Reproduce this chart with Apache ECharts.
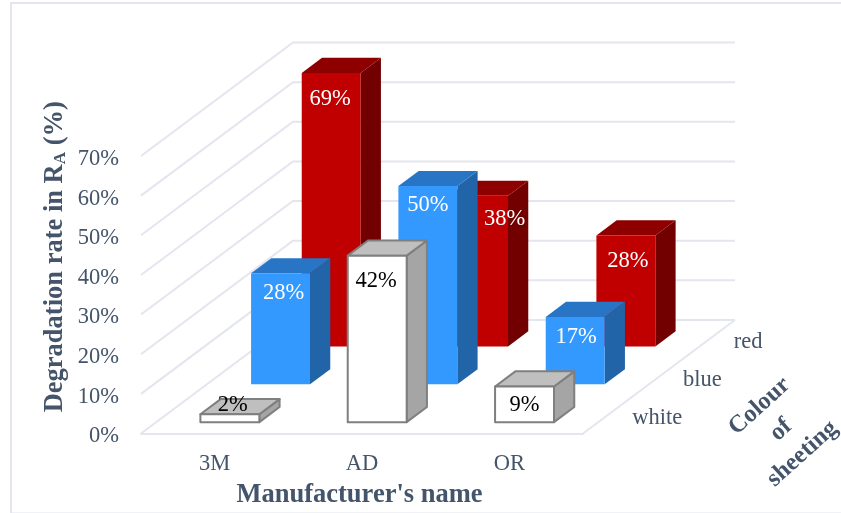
<!DOCTYPE html>
<html>
<head>
<meta charset="utf-8">
<style>html,body{margin:0;padding:0;background:#fff}#c{width:841px;height:513px}</style>
<script src="https://cdn.jsdelivr.net/npm/echarts@6/dist/echarts.min.js"></script>
</head>
<body>
<div id="c"></div>
<script>
var manufacturers = ['3M', 'AD', 'OR'];
var colours = ['white', 'blue', 'red'];
var yTicks = [0, 10, 20, 30, 40, 50, 60, 70];
var redValues = [69, 38, 28];
var blueValues = [28, 50, 17];
var whiteValues = [2, 42, 9];

var FONT = '"Liberation Serif","Times New Roman",serif';
var TEXT = '#44546A';
var GRID = '#E3E6EE';
var DEPTH_X = 152, DEPTH_Y = 113.5;
var ROW_X = DEPTH_X / colours.length, ROW_Y = DEPTH_Y / colours.length;
var BAR_FRAC = 0.4, DEPTH_FRAC = 0.4;

var styles = {
  white: {front: '#FFFFFF', top: '#BFBFBF', side: '#A5A5A5', stroke: '#7F7F7F', lw: 2, label: '#000000'},
  blue: {front: '#3399FF', top: '#2875C6', side: '#2264A8', stroke: null, lw: 0, label: '#FFFFFF'},
  red: {front: '#C00000', top: '#8E0000', side: '#720000', stroke: null, lw: 0, label: '#FFFFFF'}
};
// label placement relative to the bar's top-front centre
var labelShift = {
  white: [[3, -9], [-1, 25], [0, 19]],
  blue: [[3, 20], [0, 19], [1, 20]],
  red: [[-1, 26], [26, 23], [2, 26]]
};

function barSeries(name, values) {
  var row = colours.indexOf(name), st = styles[name];
  return {
    type: 'custom', name: name, coordinateSystem: 'cartesian2d', clip: false, silent: true,
    data: values.map(function (v, i) { return [i, v]; }),
    encode: {x: 0, y: 1},
    renderItem: function (params, api) {
      var cat = api.value(0), v = api.value(1);
      var band = api.size([1, 0])[0];
      var w = band * BAR_FRAC;
      var ddx = ROW_X * DEPTH_FRAC, ddy = ROW_Y * DEPTH_FRAC;
      var ox = (row + 0.5) * ROW_X - ddx / 2, oy = (row + 0.5) * ROW_Y - ddy / 2;
      var top = api.coord([cat, v]), base = api.coord([cat, 0]);
      var l = top[0] - w / 2 + ox, r = l + w;
      var t = top[1] - oy, b = base[1] - oy;
      var s = st.stroke ? {stroke: st.stroke, lineWidth: st.lw, lineJoin: 'round'} : {};
      function poly(pts, fill) {
        return {type: 'polygon', shape: {points: pts}, style: Object.assign({fill: fill}, s)};
      }
      var shift = labelShift[name][cat];
      return {type: 'group', children: [
        poly([[r, t], [r + ddx, t - ddy], [r + ddx, b - ddy], [r, b]], st.side),
        poly([[l, t], [l + ddx, t - ddy], [r + ddx, t - ddy], [r, t]], st.top),
        poly([[l, t], [r, t], [r, b], [l, b]], st.front),
        {type: 'text', z2: 10, style: {
          text: v + '%', x: (l + r) / 2 + shift[0], y: t + shift[1],
          align: 'center', verticalAlign: 'middle', fill: st.label,
          font: '22.5px ' + FONT
        }}
      ]};
    }
  };
}

var wallSeries = {
  type: 'custom', coordinateSystem: 'cartesian2d', clip: false, silent: true,
  data: yTicks.map(function (t) { return [0, t]; }),
  encode: {x: 0, y: 1},
  renderItem: function (params, api) {
    var cs = params.coordSys, y = api.coord([0, api.value(1)])[1];
    var x0 = cs.x, x1 = cs.x + cs.width;
    var children = [{type: 'polyline', shape: {points: [[x0, y], [x0 + DEPTH_X, y - DEPTH_Y], [x1 + DEPTH_X, y - DEPTH_Y]]},
      style: {stroke: GRID, lineWidth: 2, fill: null}}];
    if (api.value(1) === 0) {
      children.push({type: 'line', shape: {x1: x1, y1: y, x2: x1 + DEPTH_X, y2: y - DEPTH_Y},
        style: {stroke: GRID, lineWidth: 2}});
    }
    return {type: 'group', children: children};
  }
};

var depthLabels = {
  type: 'custom', coordinateSystem: 'cartesian2d', clip: false, silent: true,
  data: colours.map(function (c, i) { return [i, 0]; }),
  encode: {x: 0, y: 1},
  renderItem: function (params, api) {
    var i = api.value(0), cs = params.coordSys, y0 = api.coord([0, 0])[1];
    return {type: 'text', style: {
      text: colours[i],
      x: cs.x + cs.width + (i + 0.5) * ROW_X + 24,
      y: y0 - (i + 0.5) * ROW_Y + 3.5,
      align: 'left', verticalAlign: 'middle', fill: TEXT, font: '22.5px ' + FONT
    }};
  }
};

var chart = echarts.init(document.getElementById('c'), null, {renderer: 'canvas'});
chart.setOption({
  animation: false,
  backgroundColor: '#fff',
  textStyle: {fontFamily: FONT},
  grid: {left: 141, right: 258, top: 156, bottom: 79.5, containLabel: false, outerBoundsMode: 'none'},
  xAxis: {
    type: 'category', data: manufacturers,
    axisTick: {show: false},
    axisLine: {show: true, lineStyle: {color: GRID, width: 2}},
    axisLabel: {color: TEXT, fontSize: 22.5, fontFamily: FONT, margin: 19},
    splitLine: {show: false},
    name: "Manufacturer's name", nameLocation: 'middle', nameGap: 48, nameMoveOverlap: false,
    nameTextStyle: {color: TEXT, fontSize: 26.5, fontWeight: 'bold', fontFamily: FONT, padding: [0, 5, 0, 0]}
  },
  yAxis: {
    type: 'value', min: 0, max: 70, interval: 10,
    axisLine: {show: false}, axisTick: {show: false}, splitLine: {show: false},
    axisLabel: {color: TEXT, fontSize: 22.5, fontFamily: FONT, margin: 22, verticalAlign: 'top', lineHeight: 6, formatter: '{value}%'},
    name: '{b|Degradation rate in R}{s|A}{b| (%)}',
    nameLocation: 'middle', nameGap: 72, nameRotate: 90, nameMoveOverlap: false,
    nameTextStyle: {
      color: TEXT, fontFamily: FONT, padding: [0, 0, 0, 76],
      rich: {
        b: {color: TEXT, fontSize: 26.5, fontWeight: 'bold', fontFamily: FONT},
        s: {color: TEXT, fontSize: 17, fontWeight: 'bold', fontFamily: FONT, verticalAlign: 'bottom', padding: [10, 0, 0, 0]}
      }
    }
  },
  graphic: [
    {type: 'rect', z: -10, silent: true, shape: {x: 11, y: 3, width: 840, height: 510.5},
      style: {fill: '#fff', stroke: GRID, lineWidth: 2}},
    {type: 'text', silent: true, x: 781, y: 430, rotation: 42 * Math.PI / 180,
      style: {text: 'Colour\nof\nsheeting', align: 'center', verticalAlign: 'middle', lineHeight: 32,
        fill: TEXT, font: 'bold 24.5px ' + FONT}}
  ],
  series: [wallSeries, depthLabels, barSeries('red', redValues), barSeries('blue', blueValues), barSeries('white', whiteValues)]
});
</script>
</body>
</html>
